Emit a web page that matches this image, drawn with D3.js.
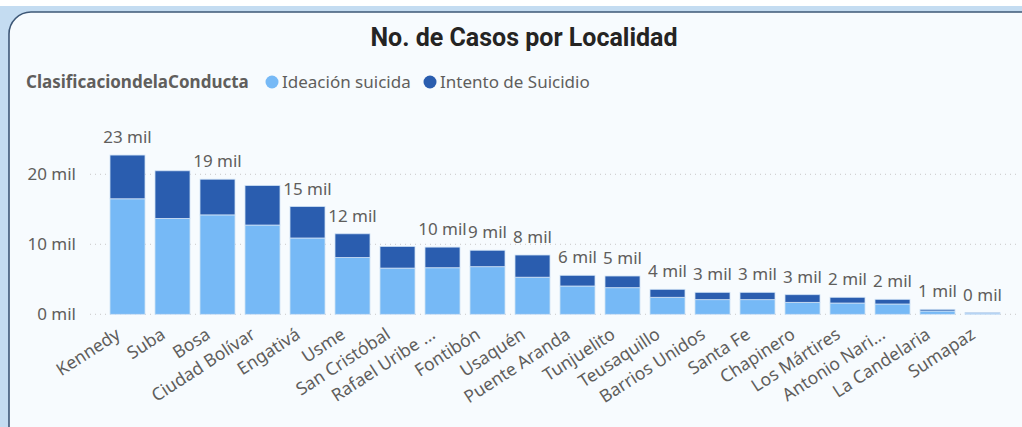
<!DOCTYPE html>
<html><head><meta charset="utf-8">
<script src="https://cdn.jsdelivr.net/npm/d3@7"></script>
<style>
html,body{margin:0;padding:0;background:#ffffff;overflow:hidden;}
svg{display:block;}
</style></head>
<body>
<svg id="chart" width="1022" height="427"></svg>
<script>
// ---- data ----
const categories = ["Kennedy","Suba","Bosa","Ciudad Bolívar","Engativá","Usme","San Cristóbal","Rafael Uribe Uribe","Fontibón","Usaquén","Puente Aranda","Tunjuelito","Teusaquillo","Barrios Unidos","Santa Fe","Chapinero","Los Mártires","Antonio Nariño","La Candelaria","Sumapaz"];
const tickLabels = ["Kennedy","Suba","Bosa","Ciudad Bolívar","Engativá","Usme","San Cristóbal","Rafael Uribe ...","Fontibón","Usaquén","Puente Aranda","Tunjuelito","Teusaquillo","Barrios Unidos","Santa Fe","Chapinero","Los Mártires","Antonio Nari...","La Candelaria","Sumapaz"];
const ideacion = [16500,13700,14200,12750,10900,8100,6600,6650,6800,5300,4040,3800,2430,2090,2090,1710,1610,1470,470,180];
const intento  = [6250,6800,5100,5650,4500,3400,3100,2950,2350,3170,1530,1670,1140,1050,1050,1090,820,670,240,50];
const hiddenLabels = ["Suba","Ciudad Bolívar","San Cristóbal"];
const yTicks = [0,10000,20000];
const seriesNames = ["Ideación suicida","Intento de Suicidio"];
const colors = ["#76b9f6","#2a5daf"];

const svg = d3.select("#chart");
const W = 1022, H = 427;
const FONT = "'Noto Sans', sans-serif";

// background / card
svg.append("rect").attr("x",0).attr("y",6).attr("width",W).attr("height",H).attr("fill","#c4dcf1");
svg.append("rect").attr("x",9).attr("y",12).attr("width",W+30).attr("height",H+20)
  .attr("rx",22).attr("ry",22).attr("fill","#f7fbfe").attr("stroke","#3e5877").attr("stroke-width",1.6);

// title
svg.append("text").attr("x",524).attr("y",46).attr("text-anchor","middle")
  .attr("font-family","Roboto, sans-serif").attr("font-weight","bold").attr("font-size",25)
  .attr("fill","#252423").text("No. de Casos por Localidad");

// legend
const leg = svg.append("g").attr("font-family",FONT).attr("font-size",17);
leg.append("text").attr("x",26).attr("y",88).attr("font-weight","bold").attr("fill","#605e5c").text("ClasificaciondelaConducta");
const legX = [272, 430];
seriesNames.forEach((s,i)=>{
  leg.append("circle").attr("cx",legX[i]).attr("cy",82).attr("r",6.5).attr("fill",colors[i]);
  leg.append("text").attr("x",legX[i]+10).attr("y",88).attr("fill","#605e5c").text(s);
});

// scales
const x = d3.scaleBand().domain(categories).range([105,1005]).paddingInner(0.222).paddingOuter(0.111);
const y = d3.scaleLinear().domain([0,10000]).range([314.3,244.3]);

// gridlines
const grid = svg.append("g");
yTicks.forEach(t=>{
  grid.append("line").attr("x1",90).attr("x2",1016).attr("y1",y(t)).attr("y2",y(t))
    .attr("stroke","#c8c8c8").attr("stroke-width",1).attr("stroke-dasharray","1,4");
});
const yAxis = d3.axisLeft(y).tickValues(yTicks).tickSize(0).tickPadding(0)
  .tickFormat(d=>(d/1000)+" mil");
const ya = svg.append("g").attr("transform","translate(76,0)").call(yAxis);
ya.select(".domain").remove();
ya.selectAll("text").attr("font-family",FONT).attr("font-size",17).attr("fill","#605e5c");

// stacked bars
const rows = categories.map((c,i)=>({cat:c, ide:ideacion[i], int:intento[i]}));
const stack = d3.stack().keys(["ide","int"])(rows);
stack.forEach((layer,li)=>{
  svg.append("g").selectAll("rect").data(layer).join("rect")
    .attr("x",d=>x(d.data.cat)).attr("width",x.bandwidth())
    .attr("y",d=>y(d[1])).attr("height",d=>Math.max(0,y(d[0])-y(d[1])))
    .attr("fill",colors[li]).attr("stroke","#cfe2f5").attr("stroke-width",0.8);
});

// data labels
svg.append("g").selectAll("text").data(rows.filter(r=>!hiddenLabels.includes(r.cat))).join("text")
  .attr("x",d=>x(d.cat)+x.bandwidth()/2).attr("y",d=>y(d.ide+d.int)-12)
  .attr("text-anchor","middle").attr("font-family",FONT).attr("font-size",17)
  .attr("fill","#605e5c").text(d=>Math.round((d.ide+d.int)/1000)+" mil");

// x axis labels
const xAxis = d3.axisBottom(x).tickSize(0).tickFormat((d,i)=>tickLabels[i]);
const xa = svg.append("g").attr("transform","translate(0,"+y(0)+")").call(xAxis);
xa.select(".domain").remove();
xa.selectAll("text").attr("font-family",FONT).attr("font-size",17.5).attr("fill","#605e5c")
  .attr("text-anchor","end").attr("dy",null).attr("y",null)
  .attr("transform","translate(-6,23) rotate(-33)");
</script>
</body></html>
